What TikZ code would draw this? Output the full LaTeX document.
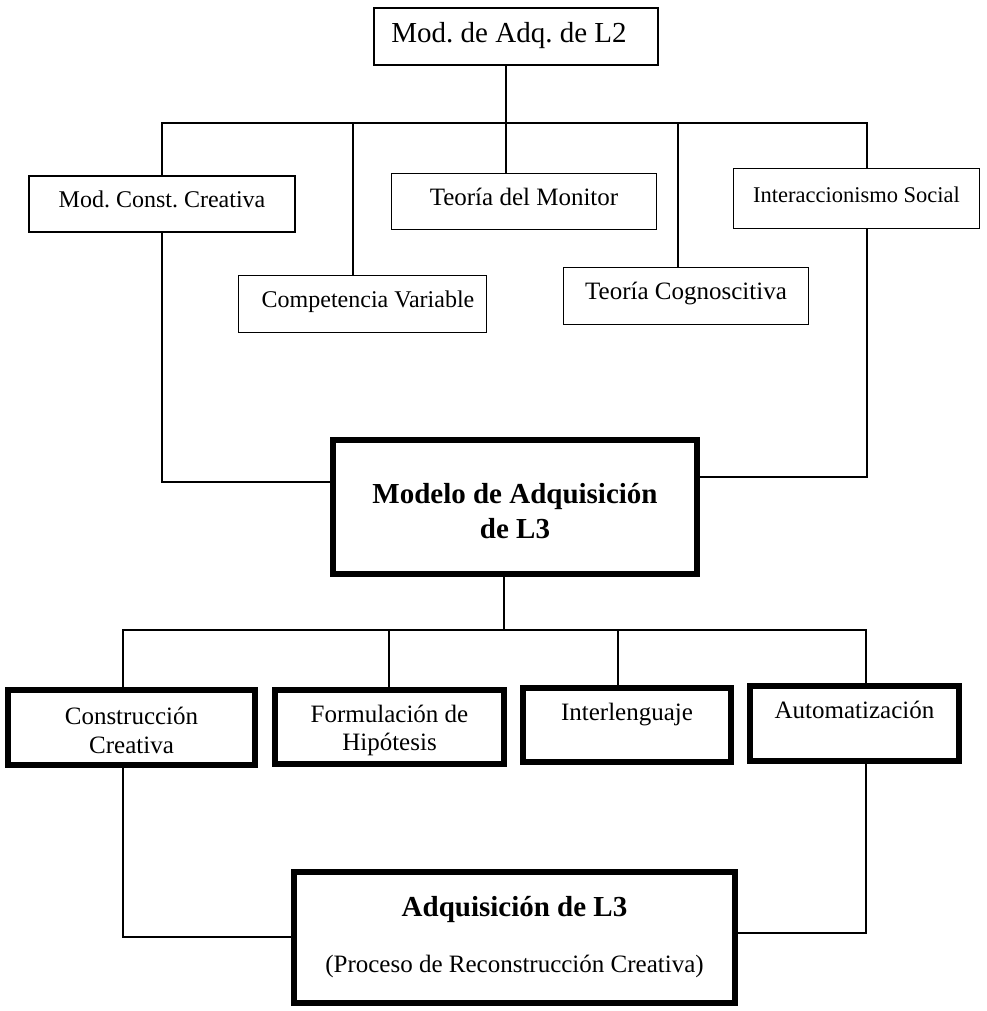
\documentclass[tikz,border=0pt]{standalone}
\usepackage{fontspec}
\setmainfont{Liberation Serif}
\frenchspacing
\begin{document}
\begin{tikzpicture}[x=1pt,y=-1pt,
  box/.style={draw, line width=1.8pt, inner sep=0pt, outer sep=0pt, align=center, text height=18pt, text depth=11pt},
  bbox/.style={draw, line width=6pt, inner sep=0pt, outer sep=0pt, align=center},
  conn/.style={line width=1.6pt}]
\useasboundingbox (0,0) rectangle (986,1011);

% top level
\node[box, font=\fontsize{29}{34}\selectfont, minimum width=284pt, minimum height=57pt, text height=20pt, text depth=7pt] (top) at (516,36.5) {Mod. de Adq. de L2\hspace*{14pt}};

\node[box, font=\fontsize{24}{28}\selectfont, minimum width=266pt, minimum height=56pt] (mcc) at (162,204) {Mod. Const. Creativa};
\node[box, font=\fontsize{24}{28}\selectfont, minimum width=248pt, minimum height=57pt] (cv) at (362.5,304) {\hspace*{11pt}Competencia Variable};
\node[box, font=\fontsize{25}{29}\selectfont, minimum width=265pt, minimum height=56pt] (tm) at (524,201.5) {Teoría del Monitor};
\node[box, font=\fontsize{25}{29}\selectfont, minimum width=245pt, minimum height=57pt] (tc) at (686,296) {Teoría Cognoscitiva};
\node[box, font=\fontsize{22.5}{27}\selectfont, minimum width=246pt, minimum height=60pt] (inter) at (856.5,198.5) {Interaccionismo Social};

% central model
\node[bbox, font=\bfseries\fontsize{29}{35}\selectfont, minimum width=364pt, minimum height=134pt, text height=62pt, text depth=0pt] (modelo) at (515,507) {Modelo de Adquisición\\de L3};

% components
\node[bbox, font=\fontsize{25}{29}\selectfont, minimum width=247pt, minimum height=75pt, text height=51pt, text depth=0pt] (cc) at (131.5,727.5) {Construcción\\Creativa};
\node[bbox, font=\fontsize{25}{28}\selectfont, minimum width=229pt, minimum height=74pt, text height=52pt, text depth=6pt] (fh) at (389.5,727) {Formulación de\\Hipótesis};
\node[bbox, font=\fontsize{25}{29}\selectfont, minimum width=208pt, minimum height=74pt, text height=17pt, text depth=27pt] (inl) at (627,725) {Interlenguaje};
\node[bbox, font=\fontsize{25}{29}\selectfont, minimum width=209pt, minimum height=75pt, text height=17pt, text depth=28pt] (aut) at (854.5,723.5) {Automatización};

% result
\node[bbox, font=\fontsize{25}{30}\selectfont, minimum width=441pt, minimum height=131pt] (adq) at (514.5,937) {{\bfseries\fontsize{29}{34}\selectfont Adquisición de L3}\\[26pt](Proceso de Reconstrucción Creativa)};

% upper bus
\coordinate (j1) at (162,123);
\coordinate (j2) at (353,123);
\coordinate (j3) at (506,123);
\coordinate (j4) at (678,123);
\coordinate (j5) at (867,123);
\draw[conn] (mcc.north) -- (j1) -- (j5) -- (inter.north -| j5);
\draw[conn] (top.south -| j3) -- (j3) -- (tm.north -| j3);
\draw[conn] (j2) -- (cv.north -| j2);
\draw[conn] (j4) -- (tc.north -| j4);

% into the model
\draw[conn] (mcc.south) |- ([yshift=25pt]modelo.west);
\draw[conn] (inter.south -| j5) |- ([yshift=30pt]modelo.east);

% lower bus
\coordinate (k0) at (504,630);
\coordinate (k1) at (123,630);
\coordinate (k2) at (389,630);
\coordinate (k3) at (618,630);
\coordinate (k4) at (866,630);
\draw[conn] (modelo.south -| k0) -- (k0);
\draw[conn] (cc.north -| k1) -- (k1) -- (k4) -- (aut.north -| k4);
\draw[conn] (k2) -- (fh.north -| k2);
\draw[conn] (k3) -- (inl.north -| k3);

% into the result
\draw[conn] (cc.south -| k1) |- (adq.west);
\draw[conn] (aut.south -| k4) |- ([yshift=4pt]adq.east);
\end{tikzpicture}
\end{document}
